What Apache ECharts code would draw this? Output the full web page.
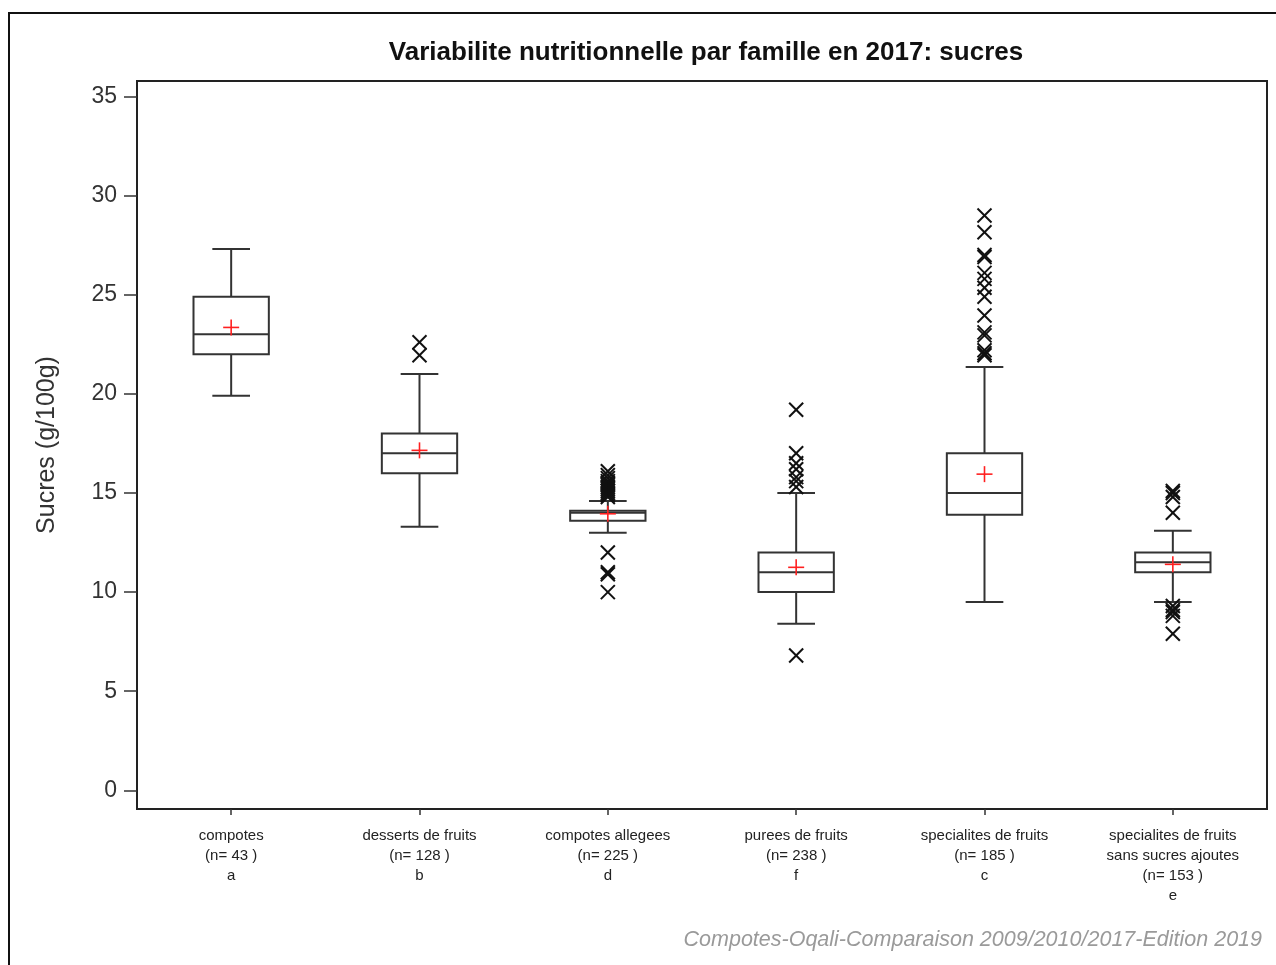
<!DOCTYPE html>
<html>
<head>
<meta charset="utf-8">
<script src="https://cdn.jsdelivr.net/npm/echarts@6/dist/echarts.min.js"></script>
<style>
html,body{margin:0;padding:0;background:#fff;}
#chart{width:1276px;height:965px;}
</style>
</head>
<body>
<div id="chart"></div>
<script>
// ---- data ----
const families = ['compotes', 'desserts de fruits', 'compotes allegees', 'purees de fruits', 'specialites de fruits', 'specialites de fruits\nsans sucres ajoutes'];
const counts = [43, 128, 225, 238, 185, 153];
const groups = ['a', 'b', 'd', 'f', 'c', 'e'];
// [lower whisker, Q1, median, Q3, upper whisker]
const boxStats = [
  [19.9, 22.0, 23.0, 24.9, 27.3],
  [13.3, 16.0, 17.0, 18.0, 21.0],
  [13.0, 13.6, 14.0, 14.1, 14.6],
  [8.4, 10.0, 11.0, 12.0, 15.0],
  [9.5, 13.9, 15.0, 17.0, 21.35],
  [9.5, 11.0, 11.5, 12.0, 13.1]
];
const means = [23.35, 17.15, 13.95, 11.25, 15.95, 11.4];
const outliers = [
  [],
  [22.6, 21.95],
  [16.1, 15.9, 15.75, 15.6, 15.5, 15.4, 15.3, 15.2, 15.1, 15.0, 14.9, 14.8, 12.0, 11.0, 10.9, 10.0],
  [19.2, 17.0, 16.5, 16.2, 15.8, 15.6, 15.3, 6.8],
  [29.0, 28.15, 27.0, 26.9, 26.1, 25.8, 25.35, 24.9, 23.95, 23.1, 22.95, 22.2, 22.05, 21.95],
  [15.1, 15.0, 14.8, 14.0, 9.3, 9.1, 9.0, 8.8, 7.9]
];
const yTicks = [0, 5, 10, 15, 20, 25, 30, 35];

// ---- build ----
const categories = families.map((f, i) => f + '\n(n= ' + counts[i] + ' )\n' + groups[i]);
const boxData = boxStats.map((s, i) => [i].concat(s));
const meanData = means.map((m, i) => [i, m]);
const outData = [];
outliers.forEach((arr, i) => arr.forEach(v => outData.push([i, v])));

const chart = echarts.init(document.getElementById('chart'));
const lineColor = '#333';

chart.setOption({
  animation: false,
  backgroundColor: '#fff',
  graphic: [{
    type: 'rect', silent: true,
    shape: { x: 9, y: 13, width: 1320, height: 1000 },
    style: { fill: 'none', stroke: '#111', lineWidth: 2 }
  }, {
    type: 'text', silent: true,
    x: 1262, y: 940,
    style: {
      text: 'Compotes-Oqali-Comparaison 2009/2010/2017-Edition 2019',
      align: 'right', verticalAlign: 'middle',
      font: 'italic 21.5px "Liberation Sans"', fill: '#9a9a9a'
    }
  }],
  title: {
    text: 'Variabilite nutritionnelle par famille en 2017: sucres',
    left: 701, top: 35, textAlign: 'center',
    textStyle: { fontFamily: 'Liberation Sans', fontWeight: 'bold', fontSize: 26, color: '#111' }
  },
  grid: {
    left: 137, right: 9, top: 81, bottom: 156,
    show: true, borderColor: '#222', borderWidth: 2, backgroundColor: '#fff'
  },
  xAxis: {
    type: 'category',
    data: categories,
    boundaryGap: true,
    axisLine: { show: false, onZero: false },
    axisTick: { show: true, alignWithLabel: true, length: 6, lineStyle: { color: '#333', width: 1.5 } },
    axisLabel: {
      interval: 0, margin: 17, fontFamily: 'Liberation Sans', fontSize: 15, lineHeight: 20, color: '#222'
    },
    splitLine: { show: false }
  },
  yAxis: {
    type: 'value',
    min: -0.94, max: 35.78,
    name: 'Sucres (g/100g)',
    nameLocation: 'middle', nameRotate: 90, nameGap: 77,
    nameTextStyle: { fontFamily: 'Liberation Sans', fontSize: 25, color: '#333' },
    axisLine: { show: false, onZero: false },
    axisTick: { show: true, customValues: yTicks, length: 13, lineStyle: { color: '#333', width: 1.5 } },
    axisLabel: { customValues: yTicks, margin: 20, fontFamily: 'Liberation Sans', fontSize: 23, color: '#333' },
    splitLine: { show: false }
  },
  series: [
    {
      type: 'custom',
      name: 'box',
      data: boxData,
      encode: { x: 0, y: [1, 2, 3, 4, 5] },
      renderItem: function (params, api) {
        const c = api.value(0);
        const bw = api.size([1, 0])[0] * 0.4;
        const cw = bw / 2;
        const pLo = api.coord([c, api.value(1)]);
        const pQ1 = api.coord([c, api.value(2)]);
        const pMed = api.coord([c, api.value(3)]);
        const pQ3 = api.coord([c, api.value(4)]);
        const pHi = api.coord([c, api.value(5)]);
        const x = pMed[0];
        const st = { stroke: lineColor, lineWidth: 2, fill: 'none' };
        return {
          type: 'group',
          children: [
            { type: 'line', shape: { x1: x, y1: pHi[1], x2: x, y2: pQ3[1] }, style: st },
            { type: 'line', shape: { x1: x, y1: pQ1[1], x2: x, y2: pLo[1] }, style: st },
            { type: 'line', shape: { x1: x - cw / 2, y1: pHi[1], x2: x + cw / 2, y2: pHi[1] }, style: st },
            { type: 'line', shape: { x1: x - cw / 2, y1: pLo[1], x2: x + cw / 2, y2: pLo[1] }, style: st },
            { type: 'rect', shape: { x: x - bw / 2, y: pQ3[1], width: bw, height: pQ1[1] - pQ3[1] }, style: { stroke: lineColor, lineWidth: 2, fill: '#fff' } },
            { type: 'line', shape: { x1: x - bw / 2, y1: pMed[1], x2: x + bw / 2, y2: pMed[1] }, style: st }
          ]
        };
      },
      z: 2
    },
    {
      type: 'custom',
      name: 'outliers',
      data: outData,
      encode: { x: 0, y: 1 },
      renderItem: function (params, api) {
        const p = api.coord([api.value(0), api.value(1)]);
        const r = 7;
        const st = { stroke: '#111', lineWidth: 2 };
        return {
          type: 'group',
          children: [
            { type: 'line', shape: { x1: p[0] - r, y1: p[1] - r, x2: p[0] + r, y2: p[1] + r }, style: st },
            { type: 'line', shape: { x1: p[0] - r, y1: p[1] + r, x2: p[0] + r, y2: p[1] - r }, style: st }
          ]
        };
      },
      z: 3
    },
    {
      type: 'custom',
      name: 'mean',
      data: meanData,
      encode: { x: 0, y: 1 },
      renderItem: function (params, api) {
        const p = api.coord([api.value(0), api.value(1)]);
        const r = 8;
        const st = { stroke: '#ff2020', lineWidth: 1.6 };
        return {
          type: 'group',
          children: [
            { type: 'line', shape: { x1: p[0] - r, y1: p[1], x2: p[0] + r, y2: p[1] }, style: st },
            { type: 'line', shape: { x1: p[0], y1: p[1] - r, x2: p[0], y2: p[1] + r }, style: st }
          ]
        };
      },
      z: 4
    }
  ]
});
</script>
</body>
</html>
